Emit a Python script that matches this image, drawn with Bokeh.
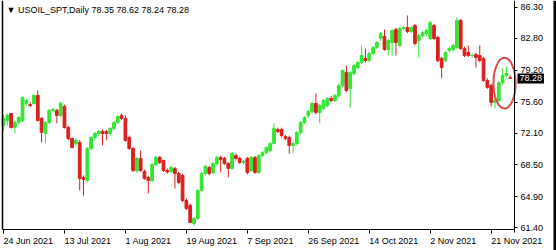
from bokeh.plotting import figure
from bokeh.models import (Range1d, FixedTicker, Label, LinearAxis, BoxAnnotation,
                          ColumnDataSource, PrintfTickFormatter)
from bokeh.embed import file_html
from bokeh.resources import INLINE

symbol = "USOIL_SPT,Daily"

opens = [72.96, 73.52, 74.30, 72.73, 73.30, 73.52, 75.44, 75.33, 75.44, 76.35,
         73.75, 72.05, 73.30, 74.65, 74.65, 74.09, 75.10, 72.73, 71.48, 70.90,
         71.03, 67.07, 66.73, 70.35, 71.60, 72.05, 72.28, 72.28, 72.05, 72.62,
         73.30, 74.09, 73.75, 71.60, 70.35, 67.86, 69.22, 67.75, 67.07, 66.73,
         68.54, 69.34, 68.99, 67.86, 67.70, 68.09, 67.52, 67.30, 64.47, 63.91,
         61.87, 62.43, 65.60, 67.52, 68.20, 67.64, 68.65, 69.34, 69.22, 68.65,
         68.09, 69.56, 69.22, 68.77, 69.22, 67.86, 69.34, 67.64, 69.56, 69.90,
         70.12, 70.92, 72.50, 72.50, 71.70, 71.60, 70.69, 70.92, 72.17, 73.30,
         74.09, 74.54, 75.44, 74.43, 74.88, 75.22, 76.00, 75.78, 76.35, 77.48,
         78.95, 77.14, 78.83, 79.51, 80.08, 80.53, 80.30, 81.10, 81.78, 82.79,
         83.02, 81.55, 82.34, 83.81, 82.00, 83.92, 84.04, 83.59, 84.26, 82.57,
         83.13, 83.36, 82.79, 84.26, 82.91, 80.53, 80.30, 81.44, 81.55, 81.78,
         84.83, 81.66, 81.21, 80.87, 80.98, 80.87, 80.53, 78.04, 77.48, 75.56,
         75.78, 77.82, 78.61, 78.35]
highs = [74.09, 74.30, 74.40, 73.50, 74.00, 76.23, 76.00, 75.60, 76.50, 76.91,
         73.90, 73.40, 74.80, 74.95, 74.85, 75.67, 75.30, 72.90, 71.60, 71.50,
         71.30, 67.30, 70.50, 71.75, 72.20, 72.45, 72.50, 72.45, 72.75, 73.45,
         74.10, 74.30, 74.10, 71.80, 70.50, 69.40, 70.12, 67.95, 67.25, 68.70,
         69.50, 69.50, 69.10, 68.10, 68.35, 68.25, 67.70, 67.50, 64.70, 64.10,
         62.60, 65.75, 67.70, 68.50, 68.40, 68.80, 69.50, 69.55, 69.40, 68.80,
         70.00, 69.80, 69.40, 69.05, 69.40, 69.50, 69.50, 69.70, 70.05, 70.60,
         71.05, 73.18, 72.70, 72.70, 71.90, 71.80, 71.10, 72.30, 73.45, 74.00,
         74.70, 75.60, 76.57, 75.40, 75.95, 76.15, 76.30, 76.50, 77.65, 79.30,
         79.74, 79.10, 79.90, 80.25, 82.00, 81.66, 81.25, 81.95, 82.50, 83.55,
         83.81, 82.75, 83.85, 84.00, 84.10, 84.20, 85.40, 84.20, 84.45, 83.30,
         83.65, 83.90, 84.80, 84.45, 83.10, 80.70, 81.40, 81.85, 82.20, 85.17,
         85.00, 81.85, 82.00, 81.10, 81.20, 82.00, 80.70, 78.30, 77.70, 76.00,
         77.95, 79.40, 79.60, 78.62]
lows = [72.39, 72.90, 72.60, 72.05, 73.10, 73.30, 75.20, 75.00, 75.30, 73.40,
        71.03, 70.90, 73.10, 74.40, 73.20, 73.90, 72.60, 71.30, 70.35, 70.60,
        65.60, 65.03, 66.50, 70.10, 71.30, 71.80, 70.70, 71.30, 71.80, 72.40,
        73.10, 73.60, 71.10, 70.20, 67.70, 67.60, 67.70, 66.80, 65.26, 66.50,
        68.30, 68.60, 67.70, 67.50, 67.60, 65.83, 66.30, 64.30, 63.40, 61.90,
        61.60, 62.30, 65.40, 67.30, 67.30, 67.40, 68.40, 67.64, 68.50, 67.07,
        67.90, 69.00, 68.60, 68.60, 67.40, 67.70, 67.50, 67.50, 69.40, 69.70,
        69.90, 70.80, 72.10, 71.60, 71.30, 69.78, 69.90, 70.70, 71.90, 73.10,
        73.80, 74.30, 74.20, 73.20, 74.70, 75.00, 75.60, 75.60, 76.10, 77.30,
        76.70, 74.99, 78.60, 79.30, 79.90, 80.10, 80.10, 80.90, 81.60, 82.50,
        81.40, 80.87, 80.87, 80.87, 81.80, 83.70, 83.40, 83.40, 82.00, 80.64,
        82.90, 83.10, 82.60, 82.60, 80.10, 78.27, 80.10, 81.20, 81.30, 81.60,
        81.50, 80.70, 80.70, 80.65, 79.51, 80.10, 77.90, 77.10, 75.10, 74.88,
        75.60, 77.60, 78.40, 78.24]
closes = [73.75, 74.09, 72.73, 73.30, 73.86, 76.12, 75.78, 75.22, 76.35, 73.52,
          72.17, 73.30, 74.65, 74.76, 74.09, 75.44, 72.73, 71.48, 70.46, 71.25,
          66.96, 66.85, 70.35, 71.60, 72.05, 72.28, 72.05, 72.05, 72.62, 73.30,
          73.97, 73.75, 71.25, 70.35, 67.86, 69.22, 67.86, 66.96, 66.73, 68.54,
          69.34, 68.77, 67.86, 67.70, 68.20, 67.52, 66.50, 64.47, 63.57, 61.98,
          62.43, 65.60, 67.52, 68.31, 67.52, 68.65, 69.34, 69.11, 68.65, 68.09,
          69.78, 69.22, 68.77, 68.88, 67.64, 69.34, 67.64, 69.56, 69.90, 70.46,
          70.92, 72.62, 72.28, 71.82, 71.48, 70.69, 70.92, 72.17, 73.30, 73.86,
          74.54, 75.44, 74.43, 75.22, 75.78, 76.00, 75.78, 76.35, 77.48, 79.17,
          76.91, 78.95, 79.74, 80.08, 80.87, 80.30, 81.10, 81.78, 82.34, 83.36,
          81.55, 82.57, 83.70, 82.34, 83.92, 84.04, 83.59, 84.04, 82.23, 83.13,
          83.47, 83.70, 84.60, 82.79, 80.30, 79.51, 81.21, 81.66, 82.00, 84.83,
          81.66, 80.87, 80.87, 80.87, 80.64, 80.30, 78.04, 77.25, 75.56, 75.78,
          77.82, 78.61, 78.83, 78.28]

date_ticks = [0, 16, 32, 48, 64, 80, 96, 112, 128]
date_labels = ["24 Jun 2021", "13 Jul 2021", "1 Aug 2021", "19 Aug 2021", "7 Sep 2021",
               "26 Sep 2021", "14 Oct 2021", "2 Nov 2021", "21 Nov 2021"]
price_ticks = [86.30, 82.80, 79.20, 75.60, 72.10, 68.50, 64.90, 61.40]

BULL = "#33e633"
BEAR = "#d92020"
FONT = "Liberation Sans"

# layout scale: pixels per bar / per price unit, and chart box in pixels
PX, PY = 3.81, 8.84
W, H = 556, 250
X0 = -3 / PX                 # bar 0 sits 3 px from the left
X1 = X0 + W / PX
Y1 = 87.09
Y0 = Y1 - H / PY
CL = X0 + 2 / PX             # chart left edge
CR = X0 + 514 / PX           # chart right edge (price axis)
CB = Y1 - 229 / PY           # chart bottom edge (time axis)
EDGE = X0 + 553 / PX         # dark window border

n = len(closes)
idx = list(range(n))
cols = [BULL if c >= o else BEAR for o, c in zip(opens, closes)]
src = ColumnDataSource(dict(x=idx, o=opens, h=highs, l=lows, c=closes,
                            top=[max(o, c) for o, c in zip(opens, closes)],
                            bot=[min(o, c) for o, c in zip(opens, closes)],
                            col=cols))

p = figure(width=W, height=H, min_border=0, min_border_left=0, min_border_right=0,
           min_border_top=0, min_border_bottom=0,
           x_range=Range1d(X0, X1), y_range=Range1d(Y0, Y1),
           x_axis_location=None, y_axis_location=None,
           toolbar_location=None, output_backend="svg",
           background_fill_color="white", border_fill_color="white", outline_line_color=None)
p.grid.visible = False

p.segment(x0="x", y0="l", x1="x", y1="h", source=src, line_color="col", line_width=1)
p.vbar(x="x", width=0.72, top="top", bottom="bot", source=src, fill_color="col",
       line_color="col", line_width=1)

# highlight ring around the latest bars
last = idx[-5:]
lo = min(lows[-5:]); hi = max(highs[-5:]) + 1.0
p.ellipse(x=sum(last) / len(last) + 0.5, y=(lo + hi) / 2, width=5.8, height=hi - lo,
          fill_color=None, line_color="#d94a4a", line_width=2)

# price axis (right)
ya = LinearAxis(fixed_location=CR, bounds=(CB - 0.3, Y1))
ya.ticker = FixedTicker(ticks=price_ticks)
ya.formatter = PrintfTickFormatter(format="%.2f")
ya.major_label_text_font = FONT
ya.major_label_text_font_size = "9px"
ya.major_label_text_color = "black"
ya.major_tick_out = 3
ya.major_tick_in = 0
ya.minor_tick_line_color = None
ya.major_label_standoff = 3
ya.axis_line_color = "black"
ya.major_tick_line_color = "black"
p.add_layout(ya, "right")

# time axis (below) - tick marks; labels are left-aligned texts
xa = LinearAxis(fixed_location=CB, bounds=(CL, CR))
xa.ticker = FixedTicker(ticks=date_ticks)
xa.major_label_overrides = {t: "" for t in date_ticks}
xa.major_tick_out = 4
xa.major_tick_in = 0
xa.minor_tick_line_color = None
xa.axis_line_color = "black"
xa.major_tick_line_color = "black"
p.add_layout(xa, "below")

# left frame line
la = LinearAxis(fixed_location=CL, bounds=(CB, Y1))
la.ticker = FixedTicker(ticks=[])
la.major_tick_line_color = None
la.minor_tick_line_color = None
la.major_label_text_font_size = "0px"
la.axis_line_color = "black"
la.axis_line_width = 1.5
p.add_layout(la, "left")

for t, s in zip(date_ticks, date_labels):
    p.add_layout(Label(x=t, y=CB, x_offset=0, y_offset=-6, text=s,
                       text_align="left", text_baseline="top", text_font=FONT,
                       text_font_size="9px", text_color="black"))

hdr = "\u25BC " + symbol + "  " + " ".join("%.2f" % v for v in (opens[-1], highs[-1], lows[-1], closes[-1]))
p.add_layout(Label(x=CL, y=Y1, x_offset=4, y_offset=-4, text=hdr, text_font=FONT,
                   text_font_size="9px", text_color="black", text_baseline="top"))

p.add_layout(Label(x=CR, y=closes[-1], x_offset=3, text="%.2f" % closes[-1], text_font=FONT,
                   text_font_size="9px", text_color="white", text_baseline="middle",
                   background_fill_color="black", padding=2))

p.add_layout(BoxAnnotation(left=EDGE, right=X1, bottom=Y0, top=Y1,
                           fill_color="black", fill_alpha=1.0, line_color=None))

open("out.html", "w").write(file_html(p, INLINE))
